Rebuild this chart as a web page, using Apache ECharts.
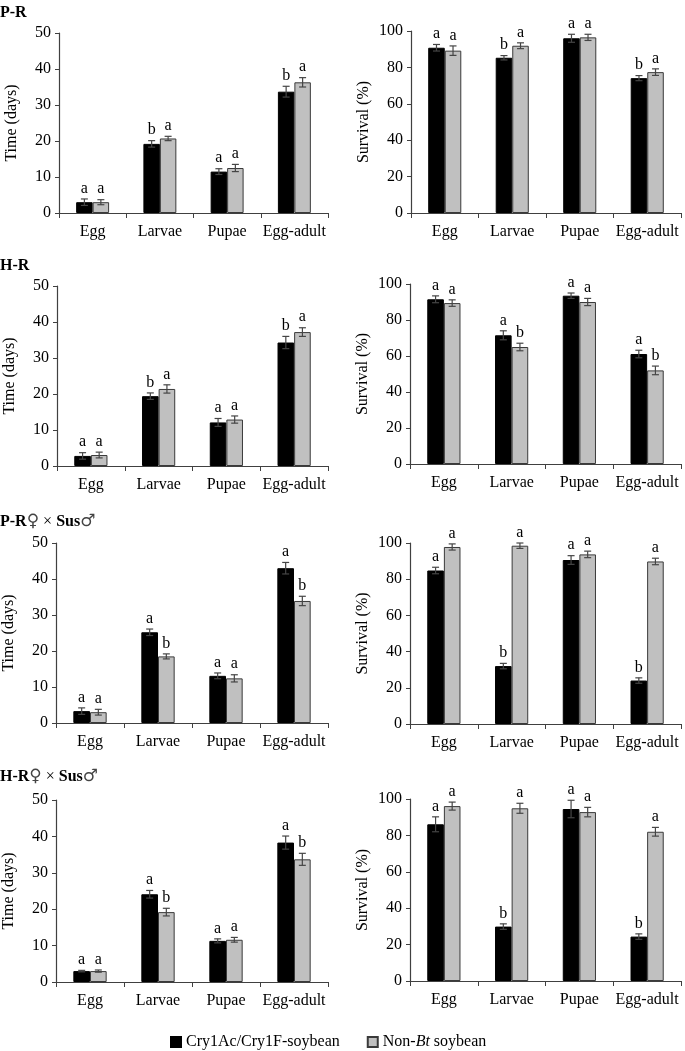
<!DOCTYPE html>
<html><head><meta charset="utf-8">
<script src="https://cdn.jsdelivr.net/npm/echarts@6/dist/echarts.min.js"></script>
<style>html,body{margin:0;padding:0;background:#fff}#c{width:685px;height:1051px}</style>
</head><body><div id="c"></div>
<script>
const categories = ['Egg', 'Larvae', 'Pupae', 'Egg-adult'];
const seriesNames = ['Cry1Ac/Cry1F-soybean', 'Non-Bt soybean'];
const timeTicks = { max: 50, interval: 10 };
const survTicks = { max: 100, interval: 20 };

// P-R
const prTimeBt = [3.0, 19.2, 11.5, 33.7];
const prTimeBtErr = [0.9, 0.9, 0.8, 1.5];
const prTimeBtLet = ['a', 'b', 'a', 'b'];
const prTimeNon = [3.0, 20.7, 12.5, 36.3];
const prTimeNonErr = [0.7, 0.6, 1.0, 1.3];
const prTimeNonLet = ['a', 'a', 'a', 'a'];
const prSurvBt = [90.8, 85.3, 96.0, 74.1];
const prSurvBtErr = [1.8, 1.2, 2.2, 1.4];
const prSurvBtLet = ['a', 'b', 'a', 'b'];
const prSurvNon = [89.2, 91.9, 96.5, 77.4];
const prSurvNonErr = [2.6, 1.6, 1.7, 1.8];
const prSurvNonLet = ['a', 'a', 'a', 'a'];
// H-R
const hrTimeBt = [2.8, 19.4, 12.1, 34.3];
const hrTimeBtErr = [0.9, 0.9, 1.1, 1.7];
const hrTimeBtLet = ['a', 'b', 'a', 'b'];
const hrTimeNon = [3.05, 21.4, 12.9, 37.2];
const hrTimeNonErr = [0.8, 1.15, 1.0, 1.2];
const hrTimeNonLet = ['a', 'a', 'a', 'a'];
const hrSurvBt = [91.5, 71.5, 93.5, 61.1];
const hrSurvBtErr = [1.9, 2.5, 1.5, 2.1];
const hrSurvBtLet = ['a', 'a', 'a', 'a'];
const hrSurvNon = [89.4, 65.0, 90.0, 52.0];
const hrSurvNonErr = [1.8, 2.1, 2.0, 2.4];
const hrSurvNonLet = ['a', 'b', 'a', 'b'];
// P-R female x Sus male
const prxTimeBt = [3.3, 25.2, 13.1, 43.0];
const prxTimeBtErr = [0.9, 0.9, 0.8, 1.6];
const prxTimeBtLet = ['a', 'a', 'a', 'a'];
const prxTimeNon = [3.0, 18.5, 12.4, 33.9];
const prxTimeNonErr = [0.8, 0.7, 1.0, 1.3];
const prxTimeNonLet = ['a', 'b', 'a', 'b'];
const prxSurvBt = [84.8, 32.0, 90.6, 24.0];
const prxSurvBtErr = [1.8, 1.5, 2.4, 1.5];
const prxSurvBtLet = ['a', 'b', 'a', 'b'];
const prxSurvNon = [97.8, 98.5, 93.7, 89.8];
const prxSurvNonErr = [1.7, 1.5, 1.8, 1.8];
const prxSurvNonLet = ['a', 'a', 'a', 'a'];
// H-R female x Sus male
const hrxTimeBt = [3.0, 24.1, 11.3, 38.3];
const hrxTimeBtErr = [0.2, 1.05, 0.55, 1.8];
const hrxTimeBtLet = ['a', 'a', 'a', 'a'];
const hrxTimeNon = [3.0, 19.2, 11.6, 33.7];
const hrxTimeNonErr = [0.3, 1.05, 0.65, 1.65];
const hrxTimeNonLet = ['a', 'b', 'a', 'b'];
const hrxSurvBt = [86.1, 29.9, 94.5, 24.4];
const hrxSurvBtErr = [4.1, 1.5, 4.8, 1.5];
const hrxSurvBtLet = ['a', 'b', 'a', 'b'];
const hrxSurvNon = [96.1, 94.9, 92.8, 82.0];
const hrxSurvNonErr = [2.2, 2.75, 2.6, 2.4];
const hrxSurvNonLet = ['a', 'a', 'a', 'a'];

const FONT = 'Liberation Serif';

const panels = [
  { grid: { left: 59, top: 33, width: 269, height: 180 }, yName: 'Time (days)', ticks: timeTicks,
    bt: prTimeBt, btErr: prTimeBtErr, btLet: prTimeBtLet, non: prTimeNon, nonErr: prTimeNonErr, nonLet: prTimeNonLet },
  { grid: { left: 411, top: 31, width: 270, height: 182 }, yName: 'Survival (%)', ticks: survTicks,
    bt: prSurvBt, btErr: prSurvBtErr, btLet: prSurvBtLet, non: prSurvNon, nonErr: prSurvNonErr, nonLet: prSurvNonLet },
  { grid: { left: 57, top: 286, width: 271, height: 180 }, yName: 'Time (days)', ticks: timeTicks,
    bt: hrTimeBt, btErr: hrTimeBtErr, btLet: hrTimeBtLet, non: hrTimeNon, nonErr: hrTimeNonErr, nonLet: hrTimeNonLet },
  { grid: { left: 410, top: 284, width: 271, height: 180 }, yName: 'Survival (%)', ticks: survTicks,
    bt: hrSurvBt, btErr: hrSurvBtErr, btLet: hrSurvBtLet, non: hrSurvNon, nonErr: hrSurvNonErr, nonLet: hrSurvNonLet },
  { grid: { left: 55, top: 543, width: 273, height: 180 }, yName: 'Time (days)', ticks: timeTicks,
    bt: prxTimeBt, btErr: prxTimeBtErr, btLet: prxTimeBtLet, non: prxTimeNon, nonErr: prxTimeNonErr, nonLet: prxTimeNonLet },
  { grid: { left: 410, top: 543, width: 271, height: 181 }, yName: 'Survival (%)', ticks: survTicks,
    bt: prxSurvBt, btErr: prxSurvBtErr, btLet: prxSurvBtLet, non: prxSurvNon, nonErr: prxSurvNonErr, nonLet: prxSurvNonLet },
  { grid: { left: 56, top: 800, width: 272, height: 182 }, yName: 'Time (days)', ticks: timeTicks,
    bt: hrxTimeBt, btErr: hrxTimeBtErr, btLet: hrxTimeBtLet, non: hrxTimeNon, nonErr: hrxTimeNonErr, nonLet: hrxTimeNonLet },
  { grid: { left: 410, top: 799, width: 271, height: 182 }, yName: 'Survival (%)', ticks: survTicks,
    bt: hrxSurvBt, btErr: hrxSurvBtErr, btLet: hrxSurvBtLet, non: hrxSurvNon, nonErr: hrxSurvNonErr, nonLet: hrxSurvNonLet }
];

const BAR_FRAC = 0.245;

function makeErr(side, errArr, letArr) {
  return function (params, api) {
    const i = api.value(0);
    const v = api.value(1);
    const c = api.coord([i, v]);
    const bw = api.size([1, 0], [i, v])[0];
    const x = c[0] + side * bw * BAR_FRAC / 2;
    const e = errArr[params.dataIndex];
    const yTop = api.coord([i, v + e])[1];
    const yBot = api.coord([i, v - e])[1];
    const cap = 3.5;
    const ls = { stroke: '#454545', lineWidth: 1.2 };
    return {
      type: 'group',
      children: [
        { type: 'line', shape: { x1: x, y1: yTop, x2: x, y2: yBot }, style: ls },
        { type: 'line', shape: { x1: x - cap, y1: yTop, x2: x + cap, y2: yTop }, style: ls },
        { type: 'line', shape: { x1: x - cap, y1: yBot, x2: x + cap, y2: yBot }, style: ls },
        { type: 'text', x: x, y: yTop - 2.5,
          style: { text: letArr[params.dataIndex], align: 'center', verticalAlign: 'bottom',
                   fontSize: 16, fontFamily: FONT, fill: '#000' } }
      ]
    };
  };
}

const grids = [], xAxes = [], yAxes = [], series = [];
panels.forEach((p, k) => {
  grids.push(Object.assign({ containLabel: false }, p.grid));
  xAxes.push({
    type: 'category', gridIndex: k, data: categories,
    axisLine: { lineStyle: { color: '#404040', width: 1.2 } },
    axisTick: { show: true, length: 5, interval: 0, lineStyle: { color: '#404040' } },
    axisLabel: { interval: 0, margin: 11, fontSize: 16, fontFamily: FONT, color: '#000' }
  });
  yAxes.push({
    type: 'value', gridIndex: k, min: 0, max: p.ticks.max, interval: p.ticks.interval,
    name: p.yName, nameLocation: 'middle', nameGap: 39,
    nameTextStyle: { fontSize: 16, fontFamily: FONT, color: '#000' },
    axisLine: { show: true, lineStyle: { color: '#404040', width: 1.2 } },
    axisTick: { show: true, length: 4, lineStyle: { color: '#404040' } },
    splitLine: { show: false },
    axisLabel: { margin: 8, fontSize: 16, fontFamily: FONT, color: '#000' }
  });
  series.push({
    type: 'bar', name: seriesNames[0], xAxisIndex: k, yAxisIndex: k, data: p.bt,
    barWidth: (BAR_FRAC * 100) + '%', barGap: '0%',
    itemStyle: { color: '#000', borderColor: '#000', borderWidth: 1 }
  });
  series.push({
    type: 'bar', name: seriesNames[1], xAxisIndex: k, yAxisIndex: k, data: p.non,
    barWidth: (BAR_FRAC * 100) + '%', barGap: '0%',
    itemStyle: { color: '#c0c0c0', borderColor: '#3a3a3a', borderWidth: 1 }
  });
  series.push({
    type: 'custom', name: 'err1_' + k, xAxisIndex: k, yAxisIndex: k, z: 5,
    data: p.bt.map((v, i) => [i, v]),
    encode: { x: 0, y: 1 },
    renderItem: makeErr(-1, p.btErr, p.btLet)
  });
  series.push({
    type: 'custom', name: 'err2_' + k, xAxisIndex: k, yAxisIndex: k, z: 5,
    data: p.non.map((v, i) => [i, v]),
    encode: { x: 0, y: 1 },
    renderItem: makeErr(1, p.nonErr, p.nonLet)
  });
});

const titleStyle = {
  fontSize: 16, fontFamily: FONT, color: '#000',
  rich: {
    b: { fontSize: 16, fontFamily: FONT, fontWeight: 'bold', color: '#000' },
    n: { fontSize: 16, fontFamily: FONT, fontWeight: 'normal', color: '#000' },
    s: { fontSize: 17, fontFamily: 'DejaVu Sans', fontWeight: 'normal', color: '#444' }
  }
};

const option = {
  animation: false,
  backgroundColor: '#fff',
  title: [
    { text: '{b|P-R}', left: 0, top: 5, padding: 0, textStyle: titleStyle },
    { text: '{b|H-R}', left: 0, top: 258, padding: 0, textStyle: titleStyle },
    { text: '{b|P-R}{s|♀}{n| × }{b|Sus}{s|♂}', left: 0, top: 513, padding: 0, textStyle: titleStyle },
    { text: '{b|H-R}{s|♀}{n| × }{b|Sus}{s|♂}', left: 0, top: 768, padding: 0, textStyle: titleStyle }
  ],
  legend: {
    data: seriesNames,
    left: 165, top: 1029,
    icon: 'rect', itemWidth: 10, itemHeight: 10, itemGap: 27,
    formatter: function (name) {
      if (name === 'Non-Bt soybean') return '{n|Non-}{i|Bt}{n| soybean}';
      return '{n|' + name + '}';
    },
    textStyle: {
      fontSize: 16, fontFamily: FONT, color: '#000', padding: [0, 0, 0, 0],
      rich: {
        n: { fontSize: 16, fontFamily: FONT, color: '#000' },
        i: { fontSize: 16, fontFamily: FONT, color: '#000', fontStyle: 'italic' }
      }
    },
    selectedMode: false
  },
  grid: grids,
  xAxis: xAxes,
  yAxis: yAxes,
  series: series
};

const chart = echarts.init(document.getElementById('c'));
chart.setOption(option);
</script>
</body></html>
